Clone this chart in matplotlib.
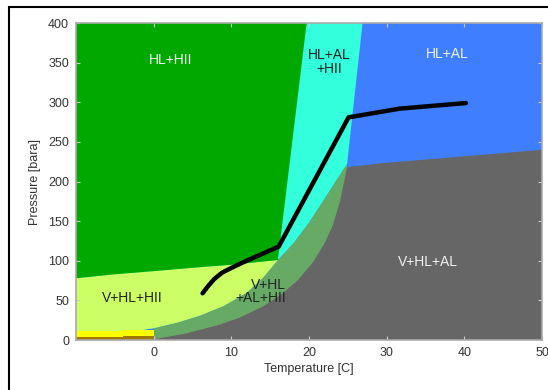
import matplotlib.pyplot as plt
from matplotlib.patches import Rectangle

plt.rcParams["font.family"] = ["Liberation Sans", "DejaVu Sans"]

# ====== Phase boundaries (Temperature C, Pressure bara) ======
# top edge of the V+HL+HII region / bottom of green HL+HII
green_bottom_T = [-10, -5, 0, 6, 10, 16]
green_bottom_P = [78, 83, 87, 92, 95, 101]
# green / cyan edge
green_right_T = [16, 19.7]
green_right_P = [101, 400]
# cyan / blue edge
blue_left_T = [26.9, 24.9]
blue_left_P = [400, 222]
# outer edge of the V+HL+AL+HII band
band_outer_T = [0, 3, 6, 9, 12, 14, 16, 18, 20, 22, 23.5, 24.9]
band_outer_P = [15, 22, 31, 43, 60, 78, 101, 122, 148, 178, 201, 222]
# gray V+HL+AL edge
gray_T = [0, 4, 8, 11, 14, 16.5, 18.5, 20.5, 22, 23, 24, 24.9]
gray_P = [1, 8, 18, 28, 42, 58, 75, 98, 122, 143, 175, 218]
# gray / blue edge
gray_top_T = [24.9, 29.2, 50]
gray_top_P = [218, 223, 240]
# thin strips at low pressure below 0 C
yellow_T = [-10, -4, -4, 0]
yellow_lo = [4, 4, 5, 5]
yellow_hi = [12, 12, 13, 13]

# hydrate line
line_T = [6.3, 7.0, 7.8, 8.8, 10.0, 11.5, 13.8, 16.1, 19.3, 25.1, 31.7, 40.2]
line_P = [59, 68, 77, 85, 91, 98, 108, 118, 176, 281, 292, 299]

fig = plt.figure(figsize=(5.48, 3.9), dpi=100)
ax = fig.add_axes([0.1387, 0.128, 0.8503, 0.813])

c_blue = "#3f7fff"
c_cyan = "#33ffdd"
c_green = "#00a800"
c_light = "#ccff66"
c_band = "#66aa66"
c_gray = "#666666"

# background HL+AL
ax.fill([-10, 50, 50, -10], [0, 0, 400, 400], color=c_blue, lw=0)

# cyan HL+AL+HII (rest gets covered)
ax.fill([-10] + blue_left_T + band_outer_T[::-1] + [-10],
        [400] + blue_left_P + band_outer_P[::-1] + [0],
        color=c_cyan, lw=0)

# V+HL+AL+HII band
ax.fill(band_outer_T + [24.9, 0],
        band_outer_P + [0, 0], color=c_band, lw=0)

# V+HL+AL gray
ax.fill(gray_T + gray_top_T[1:] + [50, 0],
        gray_P + gray_top_P[1:] + [0, 0], color=c_gray, lw=0)

# V+HL+HII light
ax.fill([-10] + green_bottom_T + band_outer_T[6::-1] + [-10],
        [0] + green_bottom_P + band_outer_P[6::-1] + [0],
        color=c_light, lw=0)

# HL+HII green
ax.fill(green_bottom_T + green_right_T[1:] + [-10],
        green_bottom_P + green_right_P[1:] + [400],
        color=c_green, lw=0)

# low-pressure strips
ax.fill_between(yellow_T, yellow_lo, yellow_hi, color="#ffff00", lw=0)
ax.fill_between(yellow_T, 0, yellow_lo, color="#a07800", lw=0)

ax.plot(line_T, line_P, color="black", lw=3.2, solid_capstyle="round",
        solid_joinstyle="round")

# region labels
ax.text(2.2, 353, "HL+HII", color="#f2f2f2", fontsize=10, ha="center", va="center")
ax.text(22.6, 351, "HL+AL\n+HII", color="#222222", fontsize=10, ha="center",
        va="center", linespacing=1.0)
ax.text(37.8, 361, "HL+AL", color="#f2f2f2", fontsize=10, ha="center", va="center")
ax.text(35.3, 98, "V+HL+AL", color="#f2f2f2", fontsize=10, ha="center", va="center")
ax.text(-2.7, 53, "V+HL+HII", color="#222222", fontsize=10, ha="center", va="center")
ax.text(17.0, 61, "V+HL\n+AL+HII", color="#222222", fontsize=10, ha="right",
        va="center", multialignment="right", linespacing=0.95)

ax.set_xlim(-10, 50)
ax.set_ylim(0, 400)
ax.set_xticks([0, 10, 20, 30, 40, 50])
ax.set_yticks(range(0, 401, 50))
ax.tick_params(direction="in", length=3, color="#cccccc", labelsize=9,
               labelcolor="#333333", pad=5, top=True, right=True)
for spine in ax.spines.values():
    spine.set_color("#aaaaaa")
    spine.set_linewidth(1.2)

ax.set_xlabel("Temperature [C]", fontsize=9, color="#333333", labelpad=3)
ax.set_ylabel("Pressure [bara]", fontsize=9, color="#333333", labelpad=5)

# outer black frame (runs off the right and bottom)
fig.patches.append(Rectangle((9 / 548, -0.2), 2, 1 - 7 / 390 + 0.2,
                             transform=fig.transFigure, fill=False,
                             edgecolor="black", lw=1.5))

fig.savefig("out.png", dpi=100)
